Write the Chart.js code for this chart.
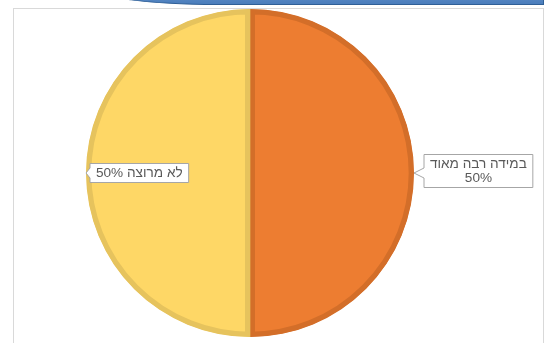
<!DOCTYPE html>
<html>
<head>
<meta charset="utf-8">
<script src="https://cdn.jsdelivr.net/npm/chart.js@4/dist/chart.umd.min.js"></script>
<style>
  html, body { margin: 0; padding: 0; background: #fff; overflow: hidden; }
  #wrap { position: relative; width: 547px; height: 343px; }
  #topbar {
    position: absolute; left: 96px; top: -12px; width: 447px; height: 16px;
    background: linear-gradient(#6a98d0, #4a7dbb);
    border-bottom: 1px solid #2f5f96;
    border-right: 1px solid #2f5f96;
    border-bottom-left-radius: 120px 16px;
  }
  #frame {
    position: absolute; left: 13px; top: 8px; width: 531px; height: 360px;
    border: 1px solid #d9d9d9; box-sizing: border-box;
  }
  canvas { position: absolute; left: 0; top: 0; }
</style>
</head>
<body>
<div id="wrap">
  <div id="topbar"></div>
  <div id="frame"></div>
  <canvas id="pieChart" width="547" height="343"></canvas>
</div>
<script>
// Chart data
const categories = ['במידה רבה מאוד', 'לא מרוצה'];
const values = [50, 50];
const percentLabels = ['50%', '50%'];

// Colors
const fillColors = ['#ED7D31', '#FED766'];
const borderColors = ['#D36E29', '#E6C35D'];

// Callout labels drawn next to each slice
const calloutPlugin = {
  id: 'callouts',
  afterDatasetsDraw(chart, args, opts) {
    const ctx = chart.ctx;
    const meta = chart.getDatasetMeta(0);
    ctx.save();
    ctx.font = '13.6px "Liberation Sans", Arial, sans-serif';
    ctx.direction = 'rtl';
    ctx.textAlign = 'center';
    ctx.textBaseline = 'middle';

    meta.data.forEach(function(arc, i) {
      const mid = (arc.startAngle + arc.endAngle) / 2;
      const tipX = arc.x + Math.cos(mid) * arc.outerRadius;
      const tipY = arc.y + Math.sin(mid) * arc.outerRadius;
      const lines = opts.twoLine[i]
        ? [categories[i], percentLabels[i]]
        : [categories[i] + ' ' + percentLabels[i]];

      let textW = 0;
      lines.forEach(function(l) { textW = Math.max(textW, ctx.measureText(l).width); });
      const lineH = 14;
      const w = textW + opts.padX * 2;
      const h = lines.length * lineH + 5;
      const bx = tipX + opts.gap[i];
      const by = tipY - h / 2 + opts.shiftY[i];

      // box with a small notch pointing to the slice edge
      ctx.beginPath();
      ctx.moveTo(bx, by);
      ctx.lineTo(bx + w, by);
      ctx.lineTo(bx + w, by + h);
      ctx.lineTo(bx, by + h);
      ctx.lineTo(bx, tipY + 5);
      ctx.lineTo(tipX, tipY);
      ctx.lineTo(bx, tipY - 5);
      ctx.closePath();
      ctx.fillStyle = '#ffffff';
      ctx.fill();
      ctx.strokeStyle = '#a6a6a6';
      ctx.lineWidth = 1;
      ctx.stroke();

      ctx.fillStyle = '#595959';
      lines.forEach(function(l, j) {
        ctx.fillText(l, bx + w / 2, by + 3 + lineH / 2 + j * lineH);
      });
    });
    ctx.restore();
  }
};

const pieCtx = document.getElementById('pieChart').getContext('2d');
const pieChart = new Chart(pieCtx, {
  type: 'pie',
  data: {
    labels: categories,
    datasets: [{
      data: values,
      backgroundColor: fillColors,
      borderColor: borderColors,
      borderWidth: 5,
      borderAlign: 'inner'
    }]
  },
  options: {
    responsive: false,
    animation: false,
    radius: 164,
    layout: {
      padding: { left: 0, right: 47, top: 3, bottom: 0 }
    },
    plugins: {
      legend: { display: false },
      tooltip: { enabled: false },
      callouts: {
        twoLine: [true, false],
        gap: [10, 4],
        shiftY: [-2, 0],
        padX: 6
      }
    }
  },
  plugins: [calloutPlugin]
});
</script>
</body>
</html>
